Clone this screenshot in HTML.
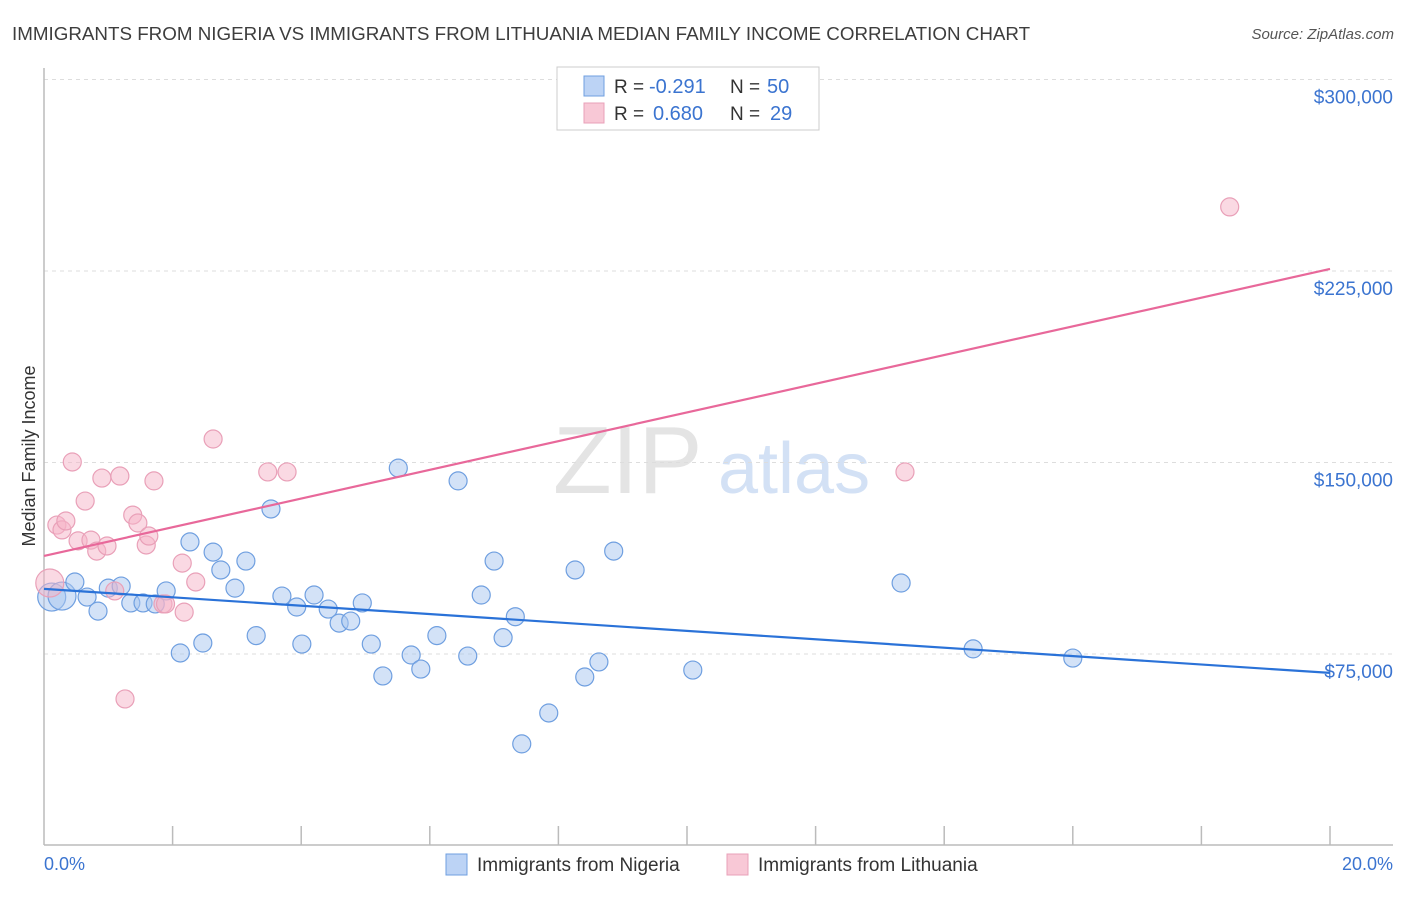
<!DOCTYPE html>
<html><head><meta charset="utf-8"><style>
body{margin:0;background:#fff;font-family:"Liberation Sans",sans-serif;}
svg text{font-family:"Liberation Sans",sans-serif;}
</style></head><body>
<svg width="1406" height="892" xmlns="http://www.w3.org/2000/svg">
<text x="12" y="40" font-size="18.8" fill="#3d3d3d">IMMIGRANTS FROM NIGERIA VS IMMIGRANTS FROM LITHUANIA MEDIAN FAMILY INCOME CORRELATION CHART</text>
<text x="1394" y="39" font-size="15" fill="#555" font-style="italic" text-anchor="end">Source: ZipAtlas.com</text>
<g>
<text x="553" y="493" font-size="96" fill="#e4e4e4" font-family="Liberation Serif,serif">ZIP</text>
<text x="718" y="493" font-size="72" fill="#d3e1f5">atlas</text>
</g>
<g id="grid"></g>
<line x1="44" y1="68" x2="44" y2="845" stroke="#bbb" stroke-width="1.5"/>
<line x1="44" y1="845" x2="1393" y2="845" stroke="#bbb" stroke-width="1.5"/>
<g id="xticks"></g>
<g id="ylabels"></g>
<text x="35" y="456" font-size="18" fill="#333" text-anchor="middle" transform="rotate(-90 35 456)">Median Family Income</text>
<text x="44" y="870" font-size="18" fill="#3b74d0">0.0%</text>
<text x="1393" y="870" font-size="18" fill="#3b74d0" text-anchor="end">20.0%</text>
<g id="pts"></g>
<g id="lines"></g>
<g>
<rect x="557" y="67" width="262" height="63" fill="#fff" stroke="#ccc"/>
<rect x="584" y="76" width="20" height="20" fill="#bcd3f5" stroke="#6f9fe0"/>
<rect x="584" y="103" width="20" height="20" fill="#f8c8d6" stroke="#e9a0b8"/>
<text x="614" y="93" font-size="19" fill="#333">R =</text>
<text x="649" y="93" font-size="20" fill="#3b74d0">-0.291</text>
<text x="730" y="93" font-size="19" fill="#333">N =</text>
<text x="767" y="93" font-size="20" fill="#3b74d0">50</text>
<text x="614" y="120" font-size="19" fill="#333">R =</text>
<text x="653" y="120" font-size="20" fill="#3b74d0">0.680</text>
<text x="730" y="120" font-size="19" fill="#333">N =</text>
<text x="770" y="120" font-size="20" fill="#3b74d0">29</text>
</g>
<g>
<rect x="446" y="854" width="21" height="21" fill="#bcd3f5" stroke="#6f9fe0"/>
<text x="477" y="871" font-size="19" fill="#333">Immigrants from Nigeria</text>
<rect x="727" y="854" width="21" height="21" fill="#f8c8d6" stroke="#e9a0b8"/>
<text x="758" y="871" font-size="19" fill="#333">Immigrants from Lithuania</text>
</g>
</svg>
<script>
const yTicks=[75000,150000,225000,300000];
const yTickLabels=["$75,000","$150,000","$225,000","$300,000"];
const nigeriaX=[0.12,0.28,0.48,0.67,0.84,1.00,1.20,1.35,1.54,1.73,1.90,2.12,2.27,2.47,2.63,2.75,2.97,3.14,3.30,3.53,3.70,3.93,4.01,4.20,4.42,4.59,4.77,4.95,5.09,5.27,5.51,5.71,5.86,6.11,6.44,6.59,6.80,7.00,7.14,7.33,7.43,7.85,8.26,8.41,8.63,8.86,10.09,13.33,14.45,16.00];
const nigeriaY=[97300,97700,103200,97300,91800,100800,101600,95000,95000,94600,99700,75400,118900,79300,114900,107900,100800,111400,82200,131800,97700,93400,78900,98100,92600,87100,87900,95000,78900,66400,147800,74600,69100,82200,142800,74200,98100,111400,81400,89600,39800,51900,107900,66000,71900,115300,68700,102800,77000,73400];
const lithX=[0.09,0.20,0.28,0.34,0.44,0.53,0.64,0.73,0.82,0.90,0.98,1.10,1.18,1.26,1.38,1.46,1.59,1.63,1.71,1.85,1.89,2.15,2.18,2.36,2.63,3.48,3.78,13.39,18.44];
const lithY=[102800,125500,123600,127100,150200,119300,134900,119600,115300,143900,117300,99700,144700,57400,129400,126300,117700,121200,142800,94600,94600,110600,91400,103200,159200,146300,146300,146300,250100];
const nigeriaTrend=[100500,67600];
const lithTrend=[113400,225800];
const X=v=>44+v/20*1286;
const Y=v=>845.5-v/75000*191.5;
const NS="http://www.w3.org/2000/svg";
function mk(t,a,p){const e=document.createElementNS(NS,t);for(const k in a)e.setAttribute(k,a[k]);p.appendChild(e);return e;}
const grid=document.getElementById('grid'),yl=document.getElementById('ylabels');
yTicks.forEach((v,i)=>{
 const l=mk('line',{x1:44,x2:1393,y1:Y(v),y2:Y(v),stroke:'#ddd','stroke-dasharray':'4,4'},grid);
 
 
 const t=mk('text',{x:1393,y:Y(v)+24,'font-size':19,fill:'#3b74d0','text-anchor':'end'},yl);
 t.textContent=yTickLabels[i];
 
 
});
const xt=document.getElementById('xticks');
for(let i=1;i<=10;i++){
 const l=mk('line',{x1:X(i*2),x2:X(i*2),y1:826,y2:845,stroke:'#bbb','stroke-width':1.5},xt);
 
 
}
const pts=document.getElementById('pts');
function draw(xs,ys,fill,stroke,name,bigCount){
 xs.forEach((x,i)=>{
  const r=i<bigCount?14:9;
  const c=mk('circle',{cx:X(x),cy:Y(ys[i]),r:r,fill:fill,stroke:stroke,'stroke-width':1.2},pts);
  
  
 });
}
draw(nigeriaX,nigeriaY,'rgba(168,198,240,0.5)','#6f9fe0','nigeria-point',2);
draw(lithX,lithY,'rgba(245,180,200,0.5)','#e9a0b8','lithuania-point',1);
const ln=document.getElementById('lines');
const b=mk('line',{x1:X(0),x2:X(20),y1:Y(nigeriaTrend[0]),y2:Y(nigeriaTrend[1]),stroke:'#2a72d8','stroke-width':2.2},ln);


const p=mk('line',{x1:X(0),x2:X(20),y1:Y(lithTrend[0]),y2:Y(lithTrend[1]),stroke:'#e8689a','stroke-width':2.2},ln);


</script>
</body></html>
